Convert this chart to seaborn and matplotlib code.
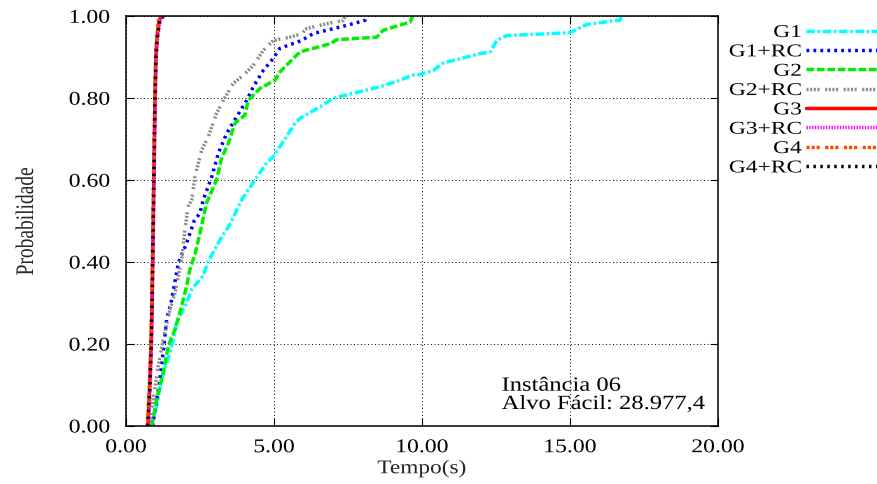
import pandas as pd
import matplotlib
matplotlib.use("Agg")
import matplotlib.pyplot as plt
import seaborn as sns
from matplotlib.patheffects import AbstractPathEffect
from matplotlib.transforms import Affine2D

# ---------------------------------------------------------------- data
series_names = ["G1", "G1+RC", "G2", "G2+RC", "G3", "G3+RC", "G4", "G4+RC"]

g1_time = [0.85, 1.04, 1.20, 1.49, 1.60, 1.71, 2.05, 2.22, 2.60, 2.78, 3.18, 3.51,
           3.91, 4.35, 4.73, 4.98, 5.20, 5.35, 5.71, 5.88, 6.55, 7.00, 7.67, 8.58,
           9.26, 9.65, 9.93, 10.38, 10.72, 11.96, 12.30, 12.52, 12.86, 15.00, 15.56,
           16.69, 16.75]
g1_prob = [0.000, 0.050, 0.115, 0.180, 0.212, 0.253, 0.301, 0.334, 0.366, 0.402,
           0.455, 0.492, 0.552, 0.600, 0.640, 0.658, 0.682, 0.698, 0.739, 0.751,
           0.779, 0.800, 0.812, 0.828, 0.844, 0.856, 0.858, 0.868, 0.886, 0.909,
           0.913, 0.941, 0.953, 0.960, 0.980, 0.991, 1.000]

g1rc_time = [0.90, 1.04, 1.12, 1.29, 1.37, 1.52, 1.77, 2.05, 2.30, 2.50, 2.61, 2.90,
             3.12, 3.40, 3.74, 4.08, 4.30, 4.64, 4.97, 5.20, 5.93, 6.33, 7.47, 8.07,
             8.12]
g1rc_prob = [0.000, 0.066, 0.100, 0.200, 0.260, 0.300, 0.398, 0.447, 0.500, 0.520,
             0.552, 0.609, 0.666, 0.714, 0.755, 0.795, 0.828, 0.868, 0.897, 0.922,
             0.941, 0.958, 0.978, 0.990, 1.000]

g2_time = [0.87, 1.04, 1.26, 1.43, 1.66, 1.82, 2.05, 2.16, 2.33, 2.50, 2.72, 3.06,
           3.23, 3.46, 3.68, 4.02, 4.13, 4.53, 5.03, 5.20, 5.65, 5.88, 6.90, 7.12,
           8.47, 8.69, 9.60, 9.68]
g2_prob = [0.000, 0.066, 0.131, 0.196, 0.236, 0.277, 0.342, 0.382, 0.419, 0.471,
           0.544, 0.601, 0.654, 0.690, 0.739, 0.759, 0.795, 0.824, 0.844, 0.864,
           0.897, 0.913, 0.933, 0.943, 0.949, 0.966, 0.986, 1.000]

g2rc_time = [0.80, 0.92, 1.09, 1.26, 1.49, 1.66, 1.88, 1.99, 2.10, 2.22, 2.33, 2.56,
             2.78, 3.06, 3.29, 3.62, 3.96, 4.30, 4.64, 4.98, 5.54, 5.93, 6.10, 6.78,
             7.34, 7.40]
g2rc_prob = [0.000, 0.066, 0.147, 0.212, 0.285, 0.326, 0.406, 0.479, 0.536, 0.552,
             0.609, 0.674, 0.706, 0.763, 0.795, 0.836, 0.856, 0.880, 0.917, 0.941,
             0.949, 0.957, 0.970, 0.982, 0.990, 1.000]

fast_prob = [0.00, 0.10, 0.20, 0.30, 0.40, 0.50, 0.60, 0.70, 0.80, 0.90, 0.95, 0.99, 1.00]
g3_time = [0.74, 0.80, 0.85, 0.88, 0.90, 0.92, 0.94, 0.96, 0.98, 1.01, 1.05, 1.12, 1.20]
g3rc_time = [0.76, 0.82, 0.86, 0.89, 0.91, 0.93, 0.95, 0.97, 0.99, 1.02, 1.07, 1.15, 1.24]
g4_time = [0.72, 0.79, 0.84, 0.87, 0.89, 0.91, 0.93, 0.95, 0.97, 1.00, 1.04, 1.10, 1.18]
g4rc_time = [0.73, 0.81, 0.85, 0.88, 0.90, 0.92, 0.94, 0.96, 0.98, 1.01, 1.06, 1.14, 1.26]

x_ticks = [0, 5, 10, 15, 20]
x_tick_labels = ["0.00", "5.00", "10.00", "15.00", "20.00"]
y_ticks = [0.0, 0.2, 0.4, 0.6, 0.8, 1.0]
y_tick_labels = ["0.00", "0.20", "0.40", "0.60", "0.80", "1.00"]

instance_text = "Instância 06"
target_text = "Alvo Fácil: 28.977,4"

# ---------------------------------------------------------------- styles
palette = {
    "G1": "#00ffff", "G1+RC": "#0000ff", "G2": "#00ee00", "G2+RC": "#8c8c8c",
    "G3": "#ff0000", "G3+RC": "#ff00ff", "G4": "#ff4500", "G4+RC": "#000000",
}
dashes = {
    "G1": (2.4, 0.8, 0.7, 0.8),
    "G1+RC": (0.8, 1.2),
    "G2": (2.2, 0.8),
    "G2+RC": (0.6, 0.45, 0.6, 0.45, 0.6, 0.45, 0.6, 1.6),
    "G3": "",
    "G3+RC": (0.4, 0.4),
    "G4": (0.9, 0.55, 0.9, 0.55, 0.9, 1.6),
    "G4+RC": (0.7, 1.3),
}


class Stretch(AbstractPathEffect):
    """Widen glyph outlines along the text direction (wide-font look)."""

    def __init__(self, sx=1.0, sy=1.0, anchor="center"):
        super().__init__()
        self.sx, self.sy, self.anchor = sx, sy, anchor

    def draw_path(self, renderer, gc, tpath, affine, rgbFace=None):
        ext = tpath.get_extents()
        if self.anchor == "left":
            cx = ext.x0
        elif self.anchor == "right":
            cx = ext.x1
        else:
            cx = 0.5 * (ext.x0 + ext.x1)
        pre = Affine2D().translate(-cx, 0).scale(self.sx, self.sy).translate(cx, 0)
        renderer.draw_path(gc, tpath, pre + affine, rgbFace)


# ---------------------------------------------------------------- table
frames = []
for name, t, p in [
    ("G1", g1_time, g1_prob), ("G1+RC", g1rc_time, g1rc_prob),
    ("G2", g2_time, g2_prob), ("G2+RC", g2rc_time, g2rc_prob),
    ("G3", g3_time, fast_prob), ("G3+RC", g3rc_time, fast_prob),
    ("G4", g4_time, fast_prob), ("G4+RC", g4rc_time, fast_prob),
]:
    frames.append(pd.DataFrame({"serie": name, "tempo": t, "prob": p}))
df = pd.concat(frames, ignore_index=True)

# ---------------------------------------------------------------- figure
sns.set_style("ticks")
plt.rcParams["font.family"] = ["Liberation Serif", "DejaVu Serif"]
plt.rcParams["axes.edgecolor"] = "black"
plt.rcParams["text.color"] = "black"

W, H = 878, 485
fig = plt.figure(figsize=(W / 100, H / 100), dpi=100)
ax_l, ax_r, ax_t, ax_b = 126, 718, 17.3, 427
ax = fig.add_axes([ax_l / W, 1 - ax_b / H, (ax_r - ax_l) / W, (ax_b - ax_t) / H])

sns.lineplot(
    data=df, x="tempo", y="prob", hue="serie", style="serie",
    hue_order=series_names, style_order=series_names,
    palette=palette, dashes=dashes, estimator=None, sort=False,
    errorbar=None, linewidth=2.5, legend=False, ax=ax,
)

ax.set_xlim(0, 20)
ax.set_ylim(0, 1)
ax.set_xticks(x_ticks)
ax.set_xticklabels(x_tick_labels)
ax.set_yticks(y_ticks)
ax.set_yticklabels(y_tick_labels)
ax.grid(True, color="black", linestyle=(0, (1, 2.6)), linewidth=0.7)
ax.tick_params(direction="in", length=5.5, width=0.8, top=True, right=True,
               labelsize=14, colors="black")
ax.tick_params(axis="x", pad=9.5)
ax.tick_params(axis="y", pad=11.5)
for sp in ax.spines.values():
    sp.set_visible(True)
    sp.set_linewidth(1.1)
    sp.set_color("black")

for lbl in ax.get_xticklabels():
    lbl.set_path_effects([Stretch(1.22, 1.0, "center")])
for lbl in ax.get_yticklabels():
    lbl.set_path_effects([Stretch(1.22, 1.0, "right")])

ax.set_xlabel("Tempo(s)", fontsize=14)
ax.xaxis.set_label_coords(0.5, (ax_b - 461) / (ax_b - ax_t))
ax.xaxis.label.set_path_effects([Stretch(1.2, 1.0, "center")])
ax.set_ylabel("Probabilidade", fontsize=14)
ax.yaxis.set_label_coords((37 - ax_l) / (ax_r - ax_l), 0.5)
ax.yaxis.label.set_path_effects([Stretch(1.0, 1.3, "center")])

span = ax_b - ax_t
for txt, base in [(instance_text, 391.7), (target_text, 410.0)]:
    t = ax.text((501.7 - ax_l) / (ax_r - ax_l), (ax_b - base) / span, txt,
                transform=ax.transAxes, fontsize=14.5, ha="left", va="baseline")
    t.set_path_effects([Stretch(1.22, 1.0, "left")])

leg = ax.legend(
    ax.get_lines()[: len(series_names)], series_names,
    loc="upper right", bbox_to_anchor=(896 / W, 1 - 25 / H),
    bbox_transform=fig.transFigure, frameon=False, markerfirst=False,
    handlelength=5.0, handletextpad=0.22, labelspacing=0.13,
    borderpad=0, borderaxespad=0, fontsize=13,
)
for t in leg.get_texts():
    t.set_path_effects([Stretch(1.3, 1.0, "right")])

fig.savefig("out.png", dpi=100)
